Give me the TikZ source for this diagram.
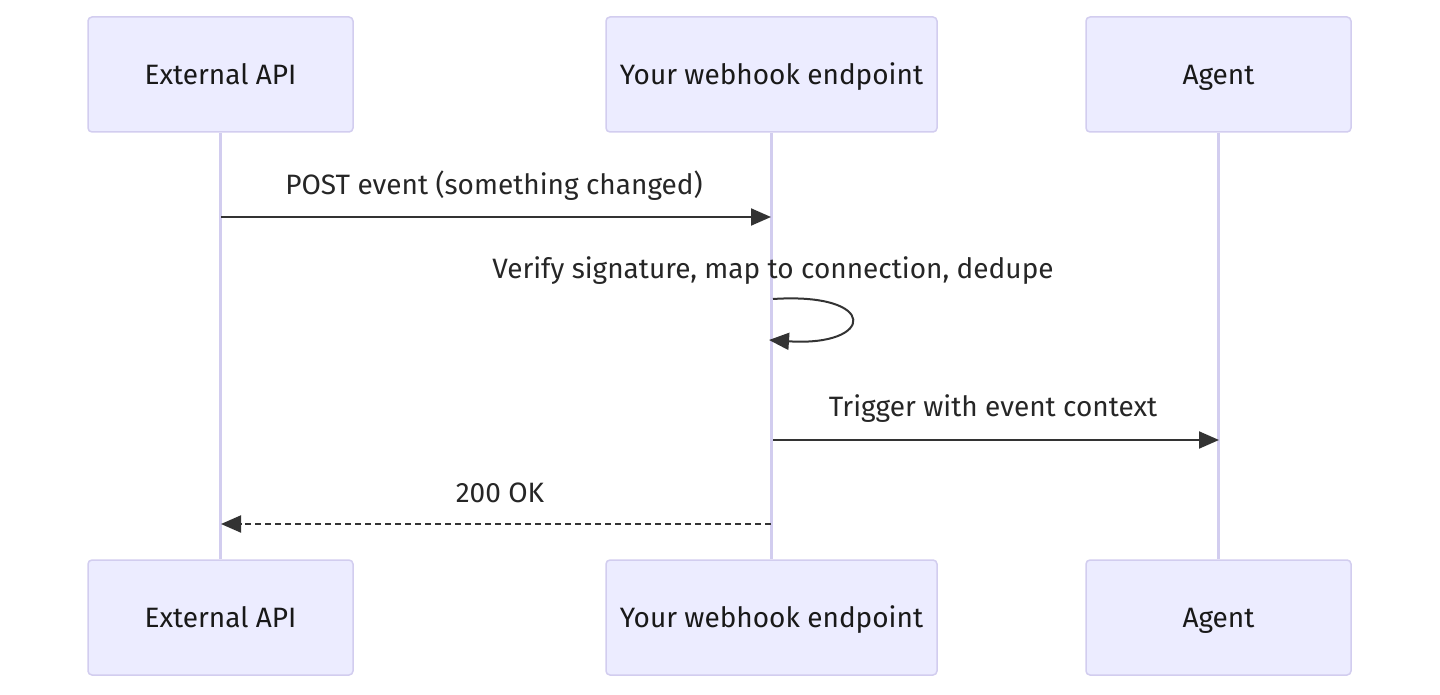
\documentclass[tikz,border=0pt]{standalone}
\usepackage{fontspec}
\setmainfont{Fira Sans}
\usetikzlibrary{arrows.meta}
\definecolor{actorfill}{HTML}{ECECFF}
\definecolor{actorline}{HTML}{D2CDEF}
\definecolor{msgline}{HTML}{333333}

\begin{document}
\begin{tikzpicture}[x=1pt,y=-1pt,>={Triangle[length=20pt,width=17pt]},
    actor/.style={draw=actorline,fill=actorfill,line width=1.5pt,rounded corners=4pt,minimum height=115pt,font=\fontsize{28}{32}\selectfont,text=black!90,text height=22pt,text depth=2pt},
    life/.style={draw=actorline,line width=3pt},
    msg/.style={draw=msgline,line width=2pt},
    lbl/.style={font=\fontsize{28}{32}\selectfont,text=black!85}]
    \useasboundingbox (0,0) rectangle (1440,695);

    % participants
    \node[actor,minimum width=265pt] (ext) at (220.5,74.5){External API};
    \node[actor,minimum width=331pt] (hook) at (771.5,74.5){Your webhook endpoint};
    \node[actor,minimum width=265pt] (agent) at (1218.5,74.5){Agent};
    \node[actor,minimum width=265pt] (extb) at (220.5,617.5){External API};
    \node[actor,minimum width=331pt] (hookb) at (771.5,617.5){Your webhook endpoint};
    \node[actor,minimum width=265pt] (agentb) at (1218.5,617.5){Agent};

    % lifelines
    \path[life]
        (ext) edge (extb)
        (hook) edge (hookb)
        (agent) edge (agentb)
        ;

    \coordinate (e1) at (221,217);
    \coordinate (h1) at (771,217);
    \coordinate (h2) at (773,299);
    \coordinate (h3) at (769,340);
    \coordinate (h4) at (773,440);
    \coordinate (a4) at (1219,440);
    \coordinate (h5) at (771,524);
    \coordinate (e5) at (221,524);

    % messages
    \draw[msg,->] (e1) -- (h1);
    \node[lbl] (m1) at (494,186){POST event (something changed)};

    \draw[msg,->] (h2) .. controls (880,292) and (875,347) .. (h3);
    \node[lbl] (m2) at (773,271){Verify signature, map to connection, dedupe};

    \draw[msg,->] (h4) -- (a4);
    \node[lbl] (m3) at (993,409){Trigger with event context};

    \draw[msg,->,dash pattern=on 6pt off 4pt] (h5) -- (e5);
    \node[lbl] (m4) at (500,493){200 OK};
\end{tikzpicture}
\end{document}
